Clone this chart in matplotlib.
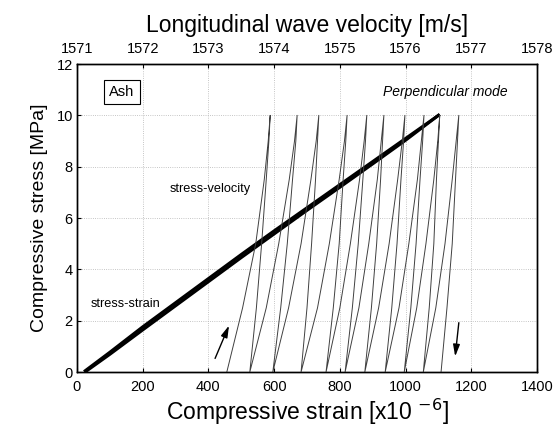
import matplotlib
matplotlib.use('Agg')
import matplotlib.pyplot as plt

plt.rcParams['font.family'] = ['Liberation Sans', 'DejaVu Sans']

# stress-strain loop (strain x1e-6, stress MPa)
strain_load = [25, 100, 200, 300, 400, 500, 600, 700, 800, 900, 1000, 1100]
stress_load = [0.05, 0.77, 1.76, 2.70, 3.64, 4.58, 5.50, 6.40, 7.30, 8.20, 9.10, 10.0]
strain_unload = [30, 100, 200, 300, 400, 500, 600, 700, 800, 900, 1000, 1100]
stress_unload = [0.05, 0.69, 1.64, 2.58, 3.52, 4.46, 5.38, 6.30, 7.20, 8.11, 9.03, 10.0]

# stress-velocity cycles, velocity [m/s] read at these stress levels
stress_levels = [0, 2.5, 5, 7.5, 9, 10]
up_strokes = [
    [1573.28, 1573.52, 1573.72, 1573.85, 1573.91, 1573.94],
    [1573.63, 1573.88, 1574.07, 1574.23, 1574.31, 1574.35],
    [1573.98, 1574.22, 1574.41, 1574.56, 1574.64, 1574.68],
    [1574.41, 1574.66, 1574.84, 1574.99, 1575.07, 1575.11],
    [1574.79, 1575.00, 1575.16, 1575.30, 1575.37, 1575.41],
    [1575.08, 1575.29, 1575.44, 1575.57, 1575.63, 1575.67],
    [1575.38, 1575.59, 1575.75, 1575.88, 1575.95, 1575.99],
    [1575.69, 1575.90, 1576.05, 1576.18, 1576.24, 1576.28],
    [1575.98, 1576.17, 1576.31, 1576.43, 1576.49, 1576.52],
    [1576.27, 1576.46, 1576.60, 1576.71, 1576.77, 1576.81],
]
down_strokes = [
    [1573.63, 1573.73, 1573.81, 1573.88, 1573.92, 1573.94],
    [1573.98, 1574.10, 1574.20, 1574.28, 1574.33, 1574.35],
    [1574.41, 1574.50, 1574.57, 1574.63, 1574.66, 1574.68],
    [1574.79, 1574.90, 1574.99, 1575.05, 1575.09, 1575.11],
    [1575.08, 1575.19, 1575.28, 1575.35, 1575.39, 1575.41],
    [1575.38, 1575.48, 1575.56, 1575.62, 1575.65, 1575.67],
    [1575.69, 1575.79, 1575.87, 1575.93, 1575.97, 1575.99],
    [1575.98, 1576.08, 1576.16, 1576.22, 1576.26, 1576.28],
    [1576.27, 1576.36, 1576.43, 1576.47, 1576.50, 1576.52],
    [1576.54, 1576.63, 1576.71, 1576.76, 1576.79, 1576.81],
]

strain_ticks = [0, 200, 400, 600, 800, 1000, 1200, 1400]
stress_ticks = [0, 2, 4, 6, 8, 10, 12]
vel_ticks = [1571, 1572, 1573, 1574, 1575, 1576, 1577, 1578]

fig = plt.figure(figsize=(5.57, 4.28), dpi=100)
ax = fig.add_axes([0.1382, 0.1308, 0.8259, 0.7196])

ax.plot(strain_load, stress_load, color='black', lw=2.2)
ax.plot(strain_unload, stress_unload, color='black', lw=2.2)

ax.set_xlim(0, 1400)
ax.set_ylim(0, 12)
ax.set_xticks(strain_ticks)
ax.set_yticks(stress_ticks)
ax.grid(True, color='0.7', linestyle=':', lw=0.6)
ax.tick_params(direction='in', length=3, labelsize=10.5, pad=6)
ax.tick_params(axis='y', pad=3)
ax.set_xlabel('Compressive strain [x10 $^{-6}$]', fontsize=16.5, labelpad=2)
ax.set_ylabel('Compressive stress [MPa]', fontsize=14, labelpad=6)

ax2 = ax.twiny()
vel_path = []
st_path = []
for up, down in zip(up_strokes, down_strokes):
    vel_path += up + down[::-1]
    st_path += stress_levels + stress_levels[::-1]
ax2.plot(vel_path, st_path, color='0.25', lw=0.7)
ax2.set_xlim(1571, 1578)
ax2.set_xticks(vel_ticks)
ax2.tick_params(direction='in', length=3, labelsize=10.5, pad=6)
ax2.set_xlabel('Longitudinal wave velocity [m/s]', fontsize=16.5, labelpad=7)

for a in (ax, ax2):
    for s in a.spines.values():
        s.set_linewidth(1.0)

ax.text(137, 10.9, 'Ash', fontsize=10.5, ha='center', va='center',
        bbox=dict(boxstyle='square,pad=0.35', fc='white', ec='black', lw=0.8))
ax.text(1120, 10.9, 'Perpendicular mode', fontsize=10, style='italic',
        ha='center', va='center')
ax.text(405, 7.15, 'stress-velocity', fontsize=9.2, ha='center', va='center')
ax.text(149, 2.66, 'stress-strain', fontsize=9.2, ha='center', va='center')

ax.annotate('', xy=(466, 1.91), xytext=(417, 0.43),
            arrowprops=dict(arrowstyle='-|>,head_length=0.7,head_width=0.2',
                            color='black', lw=1.0))
ax.annotate('', xy=(1150, 0.5), xytext=(1163, 2.03),
            arrowprops=dict(arrowstyle='-|>,head_length=0.7,head_width=0.2',
                            color='black', lw=1.0))

fig.savefig('out.png', dpi=100)
